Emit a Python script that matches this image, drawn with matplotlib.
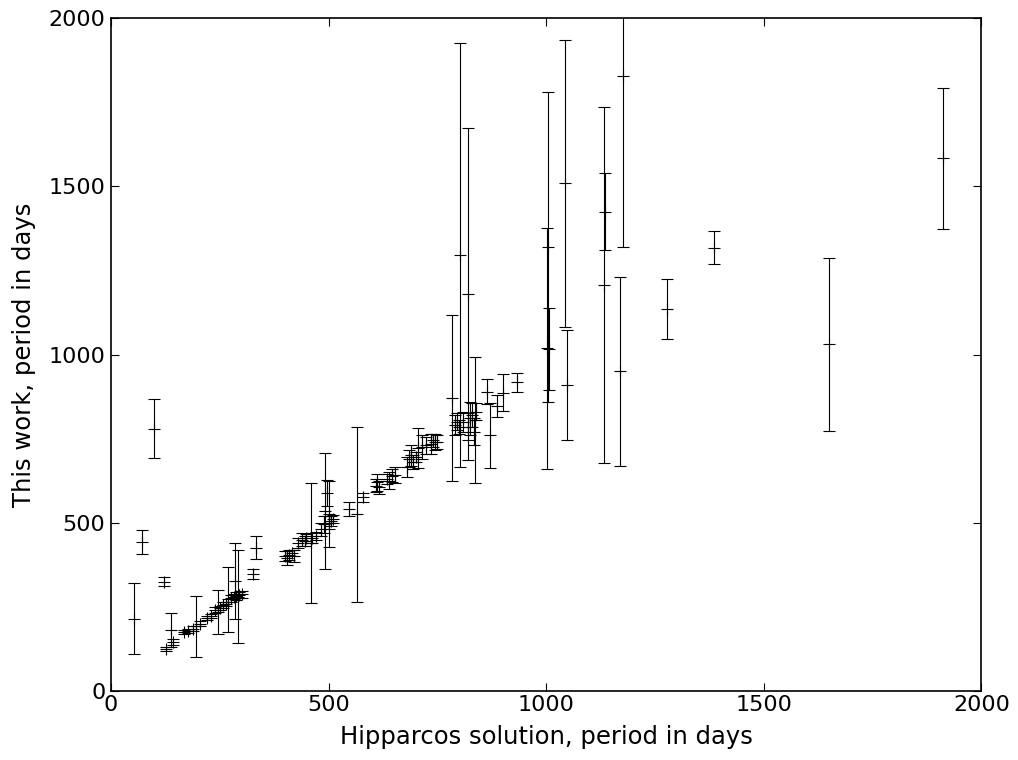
import matplotlib
matplotlib.use('Agg')
import matplotlib.pyplot as plt
import numpy as np

# Hipparcos period, period from this work, error on this work (days)
hip_period = [52, 71, 100, 123, 126, 139, 143, 168, 178, 188, 196, 205, 220, 230,
              240, 247, 250, 258, 265, 268, 275, 282, 285, 288, 293, 295, 300,
              327, 333, 400, 405, 410, 415, 420, 430, 440, 445, 448, 459, 462,
              470, 483, 490, 492, 496, 500, 500, 505, 510, 547, 566, 578, 608,
              612, 615, 635, 640, 645, 653, 680, 685, 690, 695, 700, 705, 715,
              725, 735, 740, 745, 750, 783, 790, 795, 800, 802, 810, 820, 821,
              825, 830, 835, 837, 838, 864, 871, 887, 900, 933, 1003, 1005,
              1007, 1043, 1048, 1133, 1135, 1170, 1176, 1278, 1386, 1651, 1913]
this_period = [215, 442, 780, 325, 124, 180, 145, 175, 178, 185, 192, 200, 218, 222,
               240, 235, 245, 255, 258, 272, 275, 280, 326, 283, 280, 285, 287,
               348, 426, 400, 395, 405, 410, 400, 440, 450, 445, 455, 440, 455,
               460, 480, 495, 535, 588, 527, 500, 505, 510, 541, 525, 575, 610,
               620, 605, 630, 625, 640, 642, 665, 690, 700, 680, 695, 722, 725,
               730, 735, 745, 740, 740, 870, 790, 800, 785, 1296, 800, 785, 1180,
               810, 820, 770, 805, 830, 890, 760, 848, 886, 917, 1018, 1320,
               1016, 1509, 910, 1207, 1425, 950, 1828, 1135, 1318, 1030, 1583]
this_err = [105, 36, 88, 14, 6, 50, 8, 6, 6, 8, 90, 8, 6, 6,
            8, 66, 6, 8, 6, 96, 10, 8, 113, 12, 139, 10, 10,
            15, 33, 15, 20, 15, 10, 18, 15, 20, 15, 10, 178, 15,
            12, 20, 25, 173, 38, 98, 20, 15, 12, 20, 260, 12, 20,
            25, 20, 15, 25, 20, 25, 30, 25, 30, 20, 15, 60, 35,
            25, 30, 20, 25, 20, 247, 30, 25, 20, 629, 30, 40, 495,
            50, 35, 40, 188, 25, 36, 97, 33, 55, 29, 358, 460,
            121, 426, 163, 529, 115, 280, 508, 90, 48, 257, 210]

plt.rcParams['xtick.direction'] = 'in'
plt.rcParams['ytick.direction'] = 'in'
plt.rcParams['xtick.top'] = True
plt.rcParams['ytick.right'] = True
plt.rcParams['xtick.major.size'] = 6
plt.rcParams['ytick.major.size'] = 6
plt.rcParams['xtick.major.pad'] = 3
plt.rcParams['ytick.major.pad'] = 4

fig = plt.figure(figsize=(10.18, 7.6), dpi=100)
ax = fig.add_axes([0.109, 0.091, 0.855, 0.885])

ax.errorbar(hip_period, this_period, yerr=this_err, fmt='k+', ecolor='k',
            elinewidth=0.8, capsize=4, capthick=0.8, markersize=8, mew=0.8)

ax.set_xlim(0, 2000)
ax.set_ylim(0, 2000)
ax.set_xticks(np.arange(0, 2001, 500))
ax.set_yticks(np.arange(0, 2001, 500))
ax.tick_params(labelsize=16)
ax.set_xlabel('Hipparcos solution, period in days', fontsize=17.5, labelpad=7)
ax.set_ylabel('This work, period in days', fontsize=17.5, labelpad=9)
for s in ax.spines.values():
    s.set_linewidth(1.2)

fig.savefig('out.png', dpi=100)
